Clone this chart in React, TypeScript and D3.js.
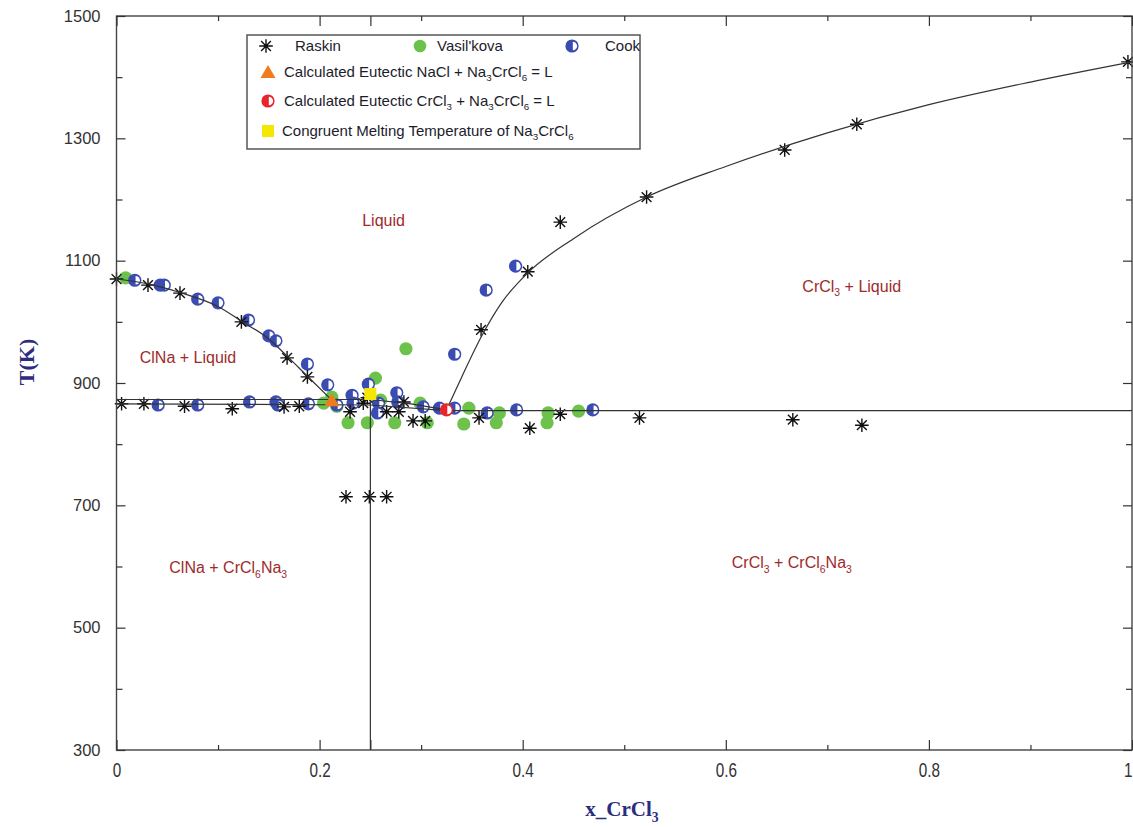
import React, { useEffect, useRef } from 'react';
import * as d3 from 'd3';

const W = 1133;
const H = 827;
const M = { left: 116.5, right: 1132, top: 16, bottom: 750 };

// ---- axis ticks ----
const xMajorTicks = [0, 0.2, 0.4, 0.6, 0.8, 1];
const xExtraTicks = [0.25];
const xMinorTicks = [0.1, 0.3, 0.5, 0.7, 0.9];
const yMajorTicks = [300, 500, 700, 900, 1100, 1300, 1500];
const yMinorTicks = [400, 600, 800, 1000, 1200, 1400];

// ---- experimental data [x_CrCl3, T(K)] ----
const raskin: [number, number][] = [
  [0, 1070], [0.031, 1060], [0.0625, 1047], [0.123, 1000], [0.168, 941], [0.188, 910],
  [0.005, 866], [0.027, 866], [0.067, 862], [0.114, 858], [0.165, 861], [0.18, 862],
  [0.23, 853], [0.247, 876], [0.243, 867], [0.266, 853], [0.278, 853], [0.283, 869],
  [0.292, 838], [0.304, 838], [0.357, 843], [0.407, 826], [0.437, 849], [0.515, 843],
  [0.666, 840], [0.734, 831],
  [0.226, 714], [0.249, 714], [0.266, 714],
  [0.359, 987], [0.405, 1082], [0.437, 1163], [0.522, 1204], [0.658, 1281], [0.729, 1323], [0.996, 1425],
];

const vasilkova: [number, number][] = [
  [0.009, 1072], [0.285, 956], [0.255, 908], [0.204, 867], [0.217, 862], [0.212, 877],
  [0.228, 835], [0.247, 835], [0.274, 835], [0.306, 835], [0.299, 867], [0.26, 872],
  [0.347, 859], [0.342, 833], [0.377, 851], [0.374, 835], [0.425, 851], [0.424, 835], [0.455, 854],
];

const cook: [number, number][] = [
  [0.018, 1068], [0.043, 1060], [0.047, 1060], [0.08, 1037], [0.1, 1031], [0.13, 1003],
  [0.15, 977], [0.157, 969], [0.188, 931], [0.208, 897],
  [0.041, 864], [0.08, 864], [0.131, 869], [0.157, 869], [0.159, 864], [0.189, 866], [0.217, 864],
  [0.232, 880], [0.233, 867], [0.248, 898], [0.258, 867], [0.257, 851], [0.276, 884], [0.277, 869],
  [0.302, 861], [0.333, 859], [0.333, 947], [0.365, 851], [0.394, 856], [0.469, 856],
  [0.364, 1052], [0.393, 1091], [0.318, 859],
];

// ---- calculated points ----
const eutecticNaCl: [number, number][] = [[0.212, 872]];
const eutecticCrCl3: [number, number][] = [[0.325, 856]];
const congruent: [number, number][] = [[0.25, 882]];

// ---- calculated phase boundaries ----
const liquidusNaCl: [number, number][] = [
  [0, 1070], [0.031, 1062], [0.0625, 1048], [0.1, 1025], [0.123, 1001], [0.15, 972],
  [0.168, 944], [0.188, 911], [0.212, 872],
];
const liquidusCompound: [number, number][] = [[0.212, 873], [0.25, 873], [0.29, 866], [0.325, 856]];
const liquidusCrCl3: [number, number][] = [
  [0.325, 856], [0.34, 910], [0.36, 978], [0.38, 1033], [0.405, 1080], [0.45, 1136],
  [0.522, 1204], [0.6, 1254], [0.7, 1309], [0.8, 1355], [0.9, 1392], [1, 1425],
];
const eutecticLineUpper: [number, number][] = [[0, 873], [0.25, 873]];
const eutecticLineLower: [number, number][] = [[0, 866], [0.25, 864], [0.325, 855], [1, 855]];
const compoundLine: [number, number][] = [[0.25, 300], [0.25, 873]];

const regionLabels = [
  { x: 0.263, t: 1157, parts: [['Liquid', false]] },
  { x: 0.0704, t: 933, parts: [['ClNa + Liquid', false]] },
  { x: 0.724, t: 1049, parts: [['CrCl', false], ['3', true], [' + Liquid', false]] },
  { x: 0.11, t: 589, parts: [['ClNa + CrCl', false], ['6', true], ['Na', false], ['3', true]] },
  { x: 0.665, t: 597, parts: [['CrCl', false], ['3', true], [' + CrCl', false], ['6', true], ['Na', false], ['3', true]] },
];

const x = d3.scaleLinear().domain([0, 1]).range([M.left, M.right]);
const y = d3.scaleLinear().domain([300, 1500]).range([M.bottom, M.top]);

const BLUE = '#3a4cb2';
const GREEN = '#6cc24a';
const RED = '#e8242c';
const ORANGE = '#f07b1c';
const YELLOW = '#f5e800';
const LABEL_RED = '#9e2b2b';
const NAVY = '#2c2d7e';

function starPath(cx: number, cy: number, r: number) {
  const d = r * 0.72;
  return `M${cx - r},${cy}L${cx + r},${cy}M${cx},${cy - r}L${cx},${cy + r}` +
    `M${cx - d},${cy - d}L${cx + d},${cy + d}M${cx - d},${cy + d}L${cx + d},${cy - d}`;
}

function Star({ cx, cy }: { cx: number; cy: number }) {
  return (
    <g>
      <path d={starPath(cx, cy, 6.8)} stroke="#111" strokeWidth={1.4} fill="none" />
      <circle cx={cx} cy={cy} r={1.8} fill="#111" />
    </g>
  );
}

function HalfCircle({ cx, cy, color }: { cx: number; cy: number; color: string }) {
  return (
    <g>
      <circle cx={cx} cy={cy} r={6.6} fill={color} />
      <path d={`M${cx + 0.8},${cy - 4.3}A4.3,4.3 0 0 1 ${cx + 0.8},${cy + 4.3}Z`} fill="#fff" />
    </g>
  );
}

function Triangle({ cx, cy }: { cx: number; cy: number }) {
  return <path d={`M${cx},${cy - 7}L${cx + 7.5},${cy + 6}L${cx - 7.5},${cy + 6}Z`} fill={ORANGE} />;
}

function Square({ cx, cy }: { cx: number; cy: number }) {
  return <rect x={cx - 6} y={cy - 6} width={12} height={12} fill={YELLOW} />;
}

function Rich({ parts, size }: { parts: any[]; size: number }) {
  return (
    <>
      {parts.map((p, i) => {
        const [txt, sub] = p;
        const prevSub = i > 0 && parts[i - 1][1];
        let dy = 0;
        if (sub && !prevSub) dy = size * 0.28;
        else if (!sub && prevSub) dy = -size * 0.28;
        return (
          <tspan key={i} dy={dy} fontSize={sub ? size * 0.65 : size}>
            {txt}
          </tspan>
        );
      })}
    </>
  );
}

export default function App() {
  const gBottom = useRef<SVGGElement>(null);
  const gBottomMinor = useRef<SVGGElement>(null);
  const gTop = useRef<SVGGElement>(null);
  const gTopMinor = useRef<SVGGElement>(null);
  const gLeft = useRef<SVGGElement>(null);
  const gLeftMinor = useRef<SVGGElement>(null);
  const gRight = useRef<SVGGElement>(null);
  const gRightMinor = useRef<SVGGElement>(null);

  useEffect(() => {
    const fmtX = (d: any) => (xMajorTicks.includes(d) ? (d === 0 ? '0' : d === 1 ? '1' : d3.format('.1f')(d)) : '');
    const style = (sel: any, family: string, size: number) => {
      sel.select('.domain').remove();
      sel.selectAll('line').attr('stroke', '#333').attr('stroke-width', 1.2);
      sel.attr('font-family', family).attr('font-size', size);
      sel.selectAll('text').attr('fill', '#333');
    };
    const b = d3.select(gBottom.current!);
    b.call(d3.axisBottom(x).tickValues([...xMajorTicks, ...xExtraTicks]).tickSize(-10).tickPadding(14).tickFormat(fmtX) as any);
    style(b, "'Liberation Sans Narrow', 'Arial Narrow', Arial, sans-serif", 18);
    b.selectAll('text').attr('transform', 'scale(0.85,1.1)').attr('dy', '0.6em');
    b.selectAll('.tick').each(function (this: any, d: any) {
      if (d === 1) d3.select(this).select('text').attr('text-anchor', 'end').attr('x', 0);
    });
    const bm = d3.select(gBottomMinor.current!);
    bm.call(d3.axisBottom(x).tickValues(xMinorTicks).tickSize(-5).tickFormat(() => '') as any);
    style(bm, 'Arial', 10);
    const t = d3.select(gTop.current!);
    t.call(d3.axisTop(x).tickValues([...xMajorTicks, ...xExtraTicks]).tickSize(-10).tickFormat(() => '') as any);
    style(t, 'Arial', 10);
    const tm = d3.select(gTopMinor.current!);
    tm.call(d3.axisTop(x).tickValues(xMinorTicks).tickSize(-5).tickFormat(() => '') as any);
    style(tm, 'Arial', 10);

    const l = d3.select(gLeft.current!);
    l.call(d3.axisLeft(y).tickValues(yMajorTicks).tickSize(-9).tickPadding(16).tickFormat(d3.format('d')) as any);
    style(l, "'Liberation Sans', Arial, sans-serif", 16.5);
    const lm = d3.select(gLeftMinor.current!);
    lm.call(d3.axisLeft(y).tickValues(yMinorTicks).tickSize(-6).tickFormat(() => '') as any);
    style(lm, 'Arial', 10);
    const r = d3.select(gRight.current!);
    r.call(d3.axisRight(y).tickValues(yMajorTicks).tickSize(-9).tickFormat(() => '') as any);
    style(r, 'Arial', 10);
    const rm = d3.select(gRightMinor.current!);
    rm.call(d3.axisRight(y).tickValues(yMinorTicks).tickSize(-6).tickFormat(() => '') as any);
    style(rm, 'Arial', 10);
  }, []);

  const line = d3.line<[number, number]>().x((d) => x(d[0])).y((d) => y(d[1]));
  const smooth = d3.line<[number, number]>().x((d) => x(d[0])).y((d) => y(d[1])).curve(d3.curveMonotoneX);

  const legendFont = "'Liberation Sans', Arial, sans-serif";

  return (
    <svg width={W} height={H} style={{ position: 'absolute', left: 0, top: 0, background: '#fff' }}>
      <rect x={0} y={0} width={W} height={H} fill="#fff" />

      {/* markers */}
      <g>
        {vasilkova.map((d, i) => (
          <circle key={'v' + i} cx={x(d[0])} cy={y(d[1])} r={6.6} fill={GREEN} />
        ))}
        {cook.map((d, i) => (
          <HalfCircle key={'c' + i} cx={x(d[0])} cy={y(d[1])} color={BLUE} />
        ))}
        {raskin.map((d, i) => (
          <Star key={'r' + i} cx={x(d[0])} cy={y(d[1])} />
        ))}
      </g>

      {/* phase boundaries */}
      <g fill="none" stroke="#333" strokeWidth={1.2}>
        <path d={smooth(liquidusNaCl)!} />
        <path d={line(liquidusCompound)!} />
        <path d={smooth(liquidusCrCl3)!} />
        <path d={line(eutecticLineUpper)!} />
        <path d={line(eutecticLineLower)!} />
        <path d={line(compoundLine)!} />
      </g>

      {/* calculated points */}
      {eutecticNaCl.map((d, i) => <Triangle key={'t' + i} cx={x(d[0])} cy={y(d[1])} />)}
      {eutecticCrCl3.map((d, i) => <HalfCircle key={'e' + i} cx={x(d[0])} cy={y(d[1])} color={RED} />)}
      {congruent.map((d, i) => <Square key={'s' + i} cx={x(d[0])} cy={y(d[1])} />)}

      {/* region labels */}
      <g fill={LABEL_RED} fontFamily={legendFont} fontSize={16}>
        {regionLabels.map((l, i) => (
          <text key={i} x={x(l.x)} y={y(l.t)} textAnchor="middle">
            <Rich parts={l.parts} size={16} />
          </text>
        ))}
      </g>

      {/* frame and axes */}
      <rect x={M.left} y={M.top} width={M.right - M.left} height={M.bottom - M.top} fill="none" stroke="#444" strokeWidth={1.4} />
      <g ref={gBottom} transform={`translate(0,${M.bottom})`} />
      <g ref={gBottomMinor} transform={`translate(0,${M.bottom})`} />
      <g ref={gTop} transform={`translate(0,${M.top})`} />
      <g ref={gTopMinor} transform={`translate(0,${M.top})`} />
      <g ref={gLeft} transform={`translate(${M.left},0)`} />
      <g ref={gLeftMinor} transform={`translate(${M.left},0)`} />
      <g ref={gRight} transform={`translate(${M.right},0)`} />
      <g ref={gRightMinor} transform={`translate(${M.right},0)`} />

      {/* axis titles */}
      <text
        x={622}
        y={816}
        textAnchor="middle"
        fill={NAVY}
        fontFamily="'Liberation Serif', 'Times New Roman', serif"
        fontWeight="bold"
        fontSize={21}
      >
        <Rich parts={[['x_CrCl', false], ['3', true]]} size={21} />
      </text>
      <text
        transform="translate(34,362) rotate(-90)"
        textAnchor="middle"
        fill={NAVY}
        fontFamily="'Liberation Serif', 'Times New Roman', serif"
        fontWeight="bold"
        fontSize={22}
      >
        T(K)
      </text>

      {/* legend */}
      <g fontFamily={legendFont} fontSize={15} fill="#1c1c2c">
        <rect x={247} y={35} width={393} height={114} fill="#fff" stroke="#555" strokeWidth={1.5} />
        <Star cx={266} cy={46} />
        <text x={295} y={51}>Raskin</text>
        <circle cx={420} cy={46} r={6.3} fill={GREEN} />
        <text x={437} y={51}>Vasil'kova</text>
        <HalfCircle cx={572} cy={46} color={BLUE} />
        <text x={605} y={51}>Cook</text>

        <Triangle cx={268} cy={72} />
        <text x={284} y={77}>
          <Rich parts={[['Calculated Eutectic NaCl + Na', false], ['3', true], ['CrCl', false], ['6', true], [' = L', false]]} size={15} />
        </text>

        <HalfCircle cx={268} cy={101} color={RED} />
        <text x={284} y={106}>
          <Rich parts={[['Calculated Eutectic CrCl', false], ['3', true], [' + Na', false], ['3', true], ['CrCl', false], ['6', true], [' = L', false]]} size={15} />
        </text>

        <Square cx={268} cy={131} />
        <text x={282} y={136}>
          <Rich parts={[['Congruent Melting Temperature of Na', false], ['3', true], ['CrCl', false], ['6', true]]} size={15} />
        </text>
      </g>
    </svg>
  );
}
